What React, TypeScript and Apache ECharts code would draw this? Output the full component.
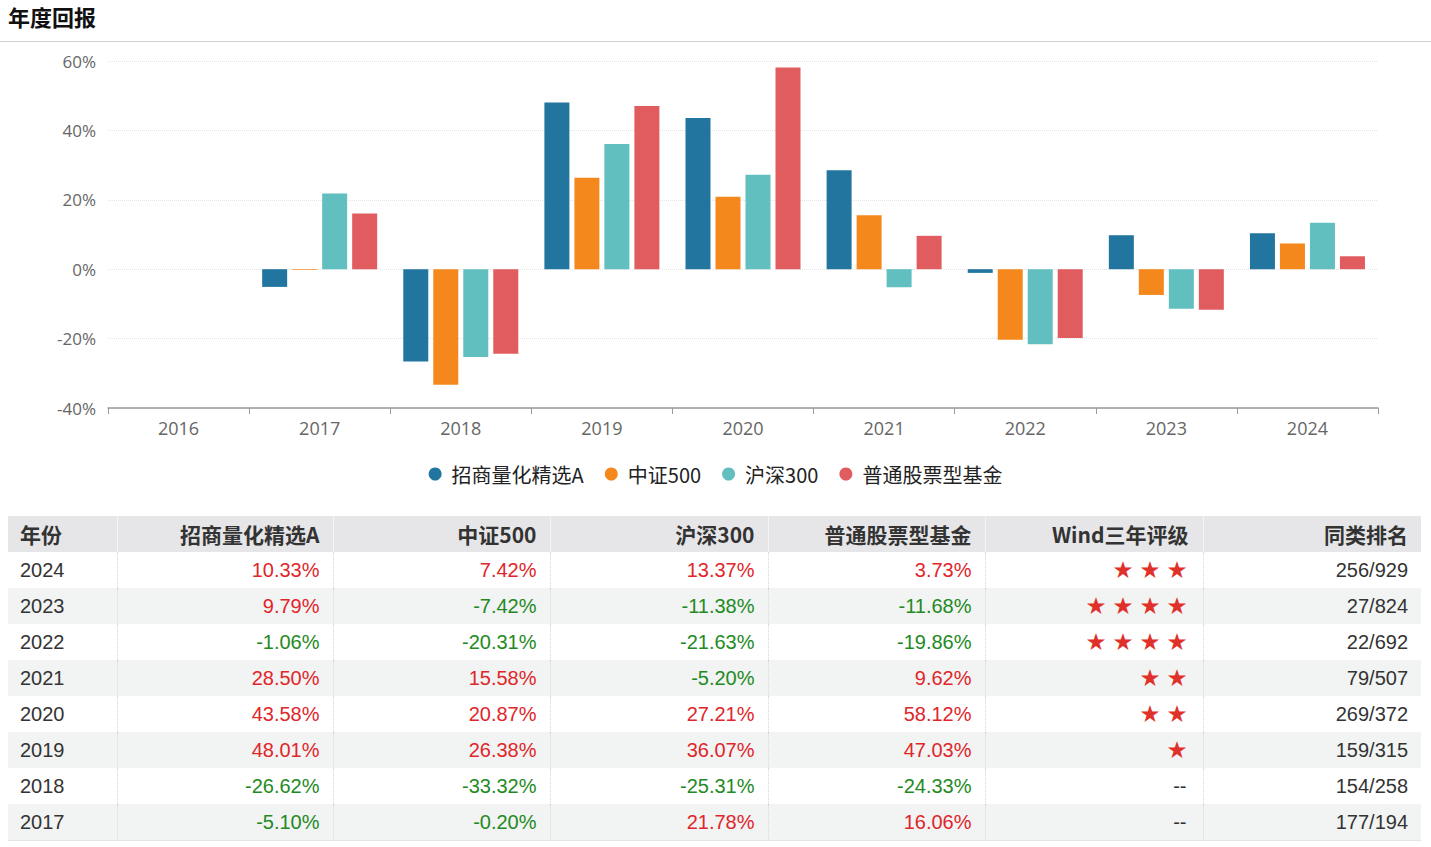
import React, { useEffect, useRef } from "react";
import * as echarts from "echarts";

const years = ["2016", "2017", "2018", "2019", "2020", "2021", "2022", "2023", "2024"];
const seriesNames = ["招商量化精选A", "中证500", "沪深300", "普通股票型基金"];
const seriesColors = ["#21759f", "#f5881c", "#61bfbf", "#e05c5f"];
const fundValues = [null, -5.1, -26.62, 48.01, 43.58, 28.5, -1.06, 9.79, 10.33];
const csi500Values = [null, -0.2, -33.32, 26.38, 20.87, 15.58, -20.31, -7.42, 7.42];
const hs300Values = [null, 21.78, -25.31, 36.07, 27.21, -5.2, -21.63, -11.38, 13.37];
const stockFundValues = [null, 16.06, -24.33, 47.03, 58.12, 9.62, -19.86, -11.68, 3.73];
const yTicks = { min: -40, max: 60, interval: 20 };

const tableYears = ["2024", "2023", "2022", "2021", "2020", "2019", "2018", "2017"];
const ratings = [3, 4, 4, 2, 2, 1, 0, 0];
const ranks = ["256/929", "27/824", "22/692", "79/507", "269/372", "159/315", "154/258", "177/194"];
const tableHeaders = ["年份", "招商量化精选A", "中证500", "沪深300", "普通股票型基金", "Wind三年评级", "同类排名"];

const colWidths = [109, 216, 217, 218, 217, 218, 218];

function fmt(v: number) {
  return v.toFixed(2) + "%";
}

function Chart() {
  const ref = useRef<HTMLDivElement>(null);
  useEffect(() => {
    if (!ref.current) return;
    const chart = echarts.init(ref.current, null, { renderer: "svg" });
    const all = [fundValues, csi500Values, hs300Values, stockFundValues];
    chart.setOption({
      animation: false,
      grid: { left: 108, right: 53, top: 20, height: 347 },
      legend: {
        top: 418,
        left: "center",
        icon: "circle",
        itemWidth: 13,
        itemHeight: 13,
        itemGap: 21,
        textStyle: { fontSize: 20, color: "#222", fontFamily: "Noto Sans CJK SC", padding: [0, 0, 0, 5] },
        data: seriesNames,
      },
      xAxis: {
        type: "category",
        data: years,
        boundaryGap: true,
        axisLine: { onZero: false, lineStyle: { color: "#999", width: 1.5 } },
        axisTick: { show: true, length: 6, lineStyle: { color: "#999" } },
        axisLabel: { fontSize: 18, color: "#666", margin: 11, fontFamily: "Open Sans" },
      },
      yAxis: {
        type: "value",
        min: yTicks.min,
        max: yTicks.max,
        interval: yTicks.interval,
        axisLine: { show: false },
        axisTick: { show: false },
        axisLabel: {
          formatter: "{value}%",
          fontSize: 17,
          color: "#666",
          margin: 12,
          fontFamily: "Open Sans",
        },
        splitLine: { lineStyle: { color: "#e4e4e4", type: "dotted", width: 1 } },
      },
      series: seriesNames.map((name, i) => ({
        name,
        type: "bar",
        data: all[i],
        barWidth: 25,
        barGap: "20%",
        itemStyle: { color: seriesColors[i] },
      })),
    });
    return () => chart.dispose();
  }, []);
  return <div ref={ref} style={{ position: "absolute", left: 0, top: 41, width: 1431, height: 458 }} />;
}

function valueCell(v: number) {
  return <span style={{ color: v >= 0 ? "#e0262a" : "#238a23" }}>{fmt(v)}</span>;
}

export default function App() {
  useEffect(() => {
    document.body.style.margin = "0";
  }, []);
  const rowsData = tableYears.map((y, i) => {
    const idx = years.indexOf(y);
    return {
      year: y,
      vals: [fundValues[idx] as number, csi500Values[idx] as number, hs300Values[idx] as number, stockFundValues[idx] as number],
      rating: ratings[i],
      rank: ranks[i],
    };
  });
  const cellBase: React.CSSProperties = {
    height: 36,
    padding: "0 13px",
    boxSizing: "border-box",
    borderRight: "1px dotted #d8d8d8",
    whiteSpace: "nowrap",
  };
  return (
    <div style={{ position: "relative", width: 1431, height: 847, background: "#fff", overflow: "hidden" }}>
      <div
        style={{
          position: "absolute",
          left: 8,
          top: 0,
          fontSize: 22,
          fontWeight: 700,
          color: "#111",
          fontFamily: "Noto Sans CJK SC",
          lineHeight: "normal",
        }}
      >
        年度回报
      </div>
      <div style={{ position: "absolute", left: 0, top: 41, width: 1431, height: 1, background: "#cfcfcf" }} />
      <Chart />
      <table
        style={{
          position: "absolute",
          left: 8,
          top: 516,
          width: 1413,
          borderCollapse: "collapse",
          tableLayout: "fixed",
          fontFamily: "Liberation Sans, Arial, sans-serif",
          fontSize: 20,
          color: "#333",
        }}
      >
        <colgroup>
          {colWidths.map((w, i) => (
            <col key={i} style={{ width: w }} />
          ))}
        </colgroup>
        <thead>
          <tr style={{ background: "#e6e6e8" }}>
            {tableHeaders.map((h, i) => (
              <th
                key={h}
                style={{
                  ...cellBase,
                  textAlign: i === 0 ? "left" : "right",
                  paddingLeft: i === 0 ? 12 : 13,
                  paddingRight: i === 5 ? 14 : 13,
                  fontFamily: "Noto Sans CJK SC",
                  fontWeight: 700,
                  fontSize: 21,
                  color: "#333",
                  borderRight: i === 6 ? "none" : "1px solid #f4f4f4",
                }}
              >
                {h}
              </th>
            ))}
          </tr>
        </thead>
        <tbody>
          {rowsData.map((r, ri) => (
            <tr key={r.year} style={{ background: ri % 2 === 1 ? "#f2f3f3" : "#fff" }}>
              <td style={{ ...cellBase, textAlign: "left", paddingLeft: 12 }}>{r.year}</td>
              {r.vals.map((v, vi) => (
                <td key={vi} style={{ ...cellBase, textAlign: "right" }}>
                  {valueCell(v)}
                </td>
              ))}
              <td style={{ ...cellBase, textAlign: "right", paddingRight: 16 }}>
                {r.rating > 0 ? (
                  <span
                    style={{
                      color: "#e0302a",
                      fontSize: 19,
                      letterSpacing: 8,
                      marginRight: -8,
                      fontFamily: "Noto Sans CJK SC",
                      position: "relative",
                      top: -2,
                    }}
                  >
                    {"★".repeat(r.rating)}
                  </span>
                ) : (
                  <span style={{ color: "#333" }}>--</span>
                )}
              </td>
              <td style={{ ...cellBase, textAlign: "right", borderRight: "none" }}>{r.rank}</td>
            </tr>
          ))}
        </tbody>
      </table>
      <div style={{ position: "absolute", left: 8, top: 840, width: 1413, height: 1, background: "#e4e4e4" }} />
    </div>
  );
}
